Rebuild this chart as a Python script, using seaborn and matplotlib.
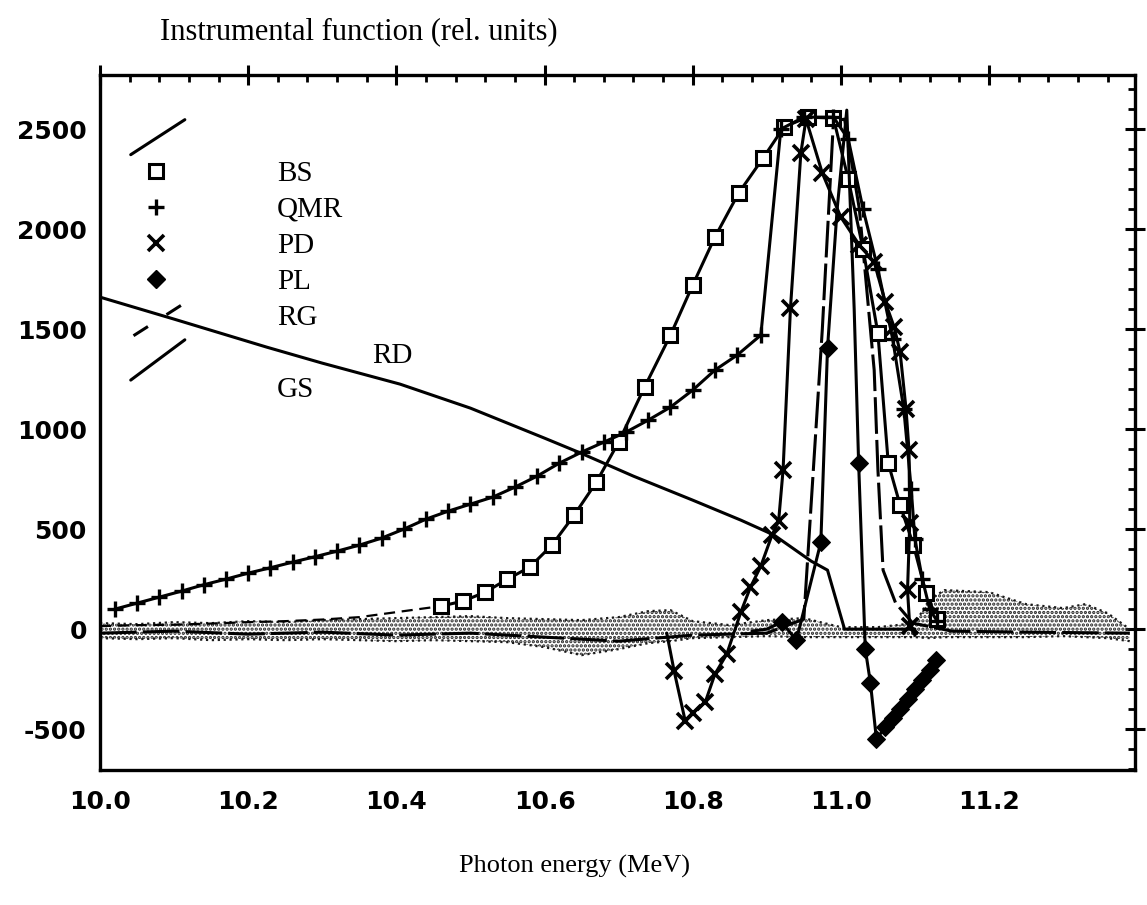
import matplotlib
matplotlib.use("Agg")
import matplotlib.pyplot as plt
import seaborn as sns
from matplotlib.lines import Line2D
from matplotlib.legend_handler import HandlerBase
from matplotlib.ticker import MultipleLocator

# ---- data (x in MeV, y in rel. units) ----
# RD: smooth curve, no markers
rd_x = [10.0, 10.1, 10.225, 10.3, 10.405, 10.5, 10.6, 10.649, 10.72, 10.80, 10.865, 10.91, 10.96, 10.982, 11.005, 11.1]
rd_y = [1660, 1550, 1410, 1330, 1225, 1105, 955, 880, 765, 645, 545, 470, 340, 295, 0, 0]

# BS: low dashed tail, then square markers
bs_tail_x = [10.0, 10.05, 10.1, 10.15, 10.2, 10.25, 10.3, 10.35, 10.4, 10.46]
bs_tail_y = [15, 20, 22, 28, 35, 40, 48, 60, 85, 115]
bs_x = [10.46, 10.49, 10.52, 10.55, 10.58, 10.61, 10.64, 10.67, 10.70, 10.735, 10.77, 10.80, 10.83,
        10.862, 10.895, 10.923, 10.955, 10.99, 11.01, 11.03, 11.05, 11.064, 11.08, 11.098, 11.115, 11.13]
bs_y = [115, 140, 185, 250, 310, 420, 570, 735, 935, 1210, 1470, 1720, 1960,
        2180, 2355, 2510, 2560, 2555, 2250, 1900, 1480, 830, 620, 420, 180, 50]

# QMR: plus markers
qmr_x = [10.02, 10.05, 10.08, 10.11, 10.14, 10.17, 10.20, 10.23, 10.26, 10.29, 10.32, 10.35, 10.38,
         10.41, 10.44, 10.47, 10.50, 10.53, 10.56, 10.59, 10.62, 10.65, 10.68, 10.71, 10.74, 10.77,
         10.80, 10.83, 10.86, 10.892, 10.919, 10.95, 10.99, 11.01, 11.03, 11.05, 11.07, 11.085, 11.095,
         11.10, 11.11, 11.12, 11.13]
qmr_y = [100, 130, 160, 190, 222, 250, 280, 307, 335, 362, 390, 420, 455,
         500, 550, 590, 625, 660, 710, 765, 830, 885, 935, 985, 1045, 1110,
         1195, 1295, 1370, 1470, 2500, 2560, 2560, 2450, 2100, 1800, 1450, 1100, 700,
         450, 250, 100, 40]

# PD: x markers
pd_x = [10.765, 10.775, 10.79, 10.80, 10.817, 10.83, 10.846, 10.865, 10.878, 10.892, 10.907, 10.916,
        10.922, 10.932, 10.946, 10.953, 10.975, 11.0, 11.025, 11.045, 11.06, 11.072, 11.08, 11.088,
        11.092, 11.093, 11.09, 11.093, 11.10]
pd_y = [-20, -210, -460, -420, -365, -225, -125, 85, 210, 315, 470, 540,
        795, 1605, 2380, 2550, 2280, 2060, 1920, 1835, 1635, 1510, 1385, 1100,
        895, 530, 195, 15, -30]

# PL: filled diamonds
pl_x = [10.88, 10.9, 10.92, 10.94, 10.973, 10.982, 10.995, 11.008, 11.018, 11.024, 11.033,
        11.04, 11.048, 11.06, 11.07, 11.08, 11.09, 11.10, 11.11, 11.12, 11.128]
pl_y = [-10, 0, 35, -55, 435, 1405, 2100, 2595, 1600, 830, -100,
        -270, -550, -490, -445, -400, -350, -300, -255, -205, -155]

# RG: dashed, mostly inside the noise band
rg_x = [10.0, 10.1, 10.2, 10.3, 10.4, 10.5, 10.6, 10.7, 10.8, 10.9, 10.95, 10.975, 10.99, 11.005,
        11.025, 11.045, 11.05, 11.057, 11.074, 11.097, 11.15, 11.25, 11.39]
rg_y = [-20, -10, -25, -15, -30, -20, -40, -60, -30, -20, 50, 1500, 2540, 2550,
        2100, 1295, 800, 295, 130, 30, -10, -15, -20]

# GS: noise band, upper / lower envelope
gs_x = [10.0, 10.05, 10.1, 10.15, 10.2, 10.25, 10.3, 10.35, 10.4, 10.45, 10.5, 10.55, 10.6, 10.65,
        10.7, 10.74, 10.77, 10.8, 10.85, 10.9, 10.95, 11.0, 11.05, 11.1, 11.12, 11.14, 11.2, 11.25,
        11.3, 11.33, 11.36, 11.39]
gs_hi = [30, 25, 35, 30, 40, 35, 45, 50, 55, 60, 65, 55, 50, 45,
         60, 90, 95, 40, 20, 45, 55, 10, 10, 30, 150, 195, 185, 125,
         105, 125, 80, 0]
gs_lo = [-45, -50, -45, -55, -50, -55, -50, -55, -60, -55, -60, -65, -90, -130,
         -100, -70, -60, -45, -40, -35, -40, -40, -40, -40, -45, -40, -40, -40,
         -35, -40, -45, -60]

x_ticks = [10.0, 10.2, 10.4, 10.6, 10.8, 11.0, 11.2]
x_labels = ["10.0", "10.2", "10.4", "10.6", "10.8", "11.0", "11.2"]
y_ticks = [-500, 0, 500, 1000, 1500, 2000, 2500]
y_labels = ["-500", "0", "500", "1000", "1500", "2000", "2500"]


class Slant:
    def __init__(self, ls, y0, y1, x0=2):
        self.ls, self.y0, self.y1, self.x0 = ls, y0, y1, x0


class SlantHandler(HandlerBase):
    # draws the slanted line samples of the old legend
    def create_artists(self, legend, h, xd, yd, width, height, fontsize, trans):
        yc = -yd + height / 2
        ln = Line2D([-xd + h.x0, -xd + width], [yc + h.y0, yc + h.y1], color="k", lw=2.2, ls=h.ls)
        ln.set_transform(trans)
        return [ln]


sns.set_style("white")
plt.rcParams["font.family"] = ["Liberation Serif", "DejaVu Serif"]
plt.rcParams.update({"text.color": "k", "axes.labelcolor": "k", "xtick.color": "k",
                     "ytick.color": "k", "hatch.linewidth": 1.6})

fig = plt.figure(figsize=(11.47, 9.05), dpi=100)
ax = fig.add_axes([0.0872, 0.149, 0.9023, 0.768])

lw = 2.2
ax.fill_between(gs_x, gs_lo, gs_hi, facecolor="none", edgecolor="0.15", hatch="....", lw=0)
sns.lineplot(x=gs_x, y=gs_hi, color="0.1", lw=1.6, ls=":", ax=ax, estimator=None, sort=False)
sns.lineplot(x=gs_x, y=gs_lo, color="0.1", lw=1.6, ls=":", ax=ax, estimator=None, sort=False)
sns.lineplot(x=rg_x, y=rg_y, color="k", lw=lw, ls=(0, (12, 2)), ax=ax, estimator=None, sort=False)

sns.lineplot(x=rd_x, y=rd_y, color="k", lw=lw, ax=ax, estimator=None, sort=False)
sns.lineplot(x=bs_tail_x, y=bs_tail_y, color="k", lw=1.6, ls=(0, (5, 3)), ax=ax, estimator=None, sort=False)
sns.lineplot(x=bs_x, y=bs_y, color="k", lw=lw, marker="s", markersize=10, markerfacecolor="white",
             markeredgecolor="k", markeredgewidth=2.2, ax=ax, estimator=None, sort=False)
sns.lineplot(x=qmr_x, y=qmr_y, color="k", lw=lw, marker="+", markersize=12,
             markeredgecolor="k", markeredgewidth=2.4, ax=ax, estimator=None, sort=False)
sns.lineplot(x=pd_x, y=pd_y, color="k", lw=lw, marker="x", markersize=11, markevery=list(range(1, len(pd_x) - 1)),
             markeredgecolor="k", markeredgewidth=2.6, ax=ax, estimator=None, sort=False)
pl_marks = [i for i, (v, w) in enumerate(zip(pl_x, pl_y)) if 10.91 < v < 11.14 and w < 1500]
sns.lineplot(x=pl_x, y=pl_y, color="k", lw=lw, marker="D", markersize=9, markevery=pl_marks,
             markerfacecolor="k", markeredgecolor="k", ax=ax, estimator=None, sort=False)

ax.text(10.395, 1365, "RD", fontsize=21, ha="center", va="center")

# axes, ticks
ax.set_xlim(10.0, 11.397)
ax.set_ylim(-705, 2770)
ax.set_xticks(x_ticks)
ax.set_xticklabels(x_labels, fontfamily="DejaVu Sans", fontweight="bold", fontsize=18)
ax.set_yticks(y_ticks)
ax.set_yticklabels(y_labels, fontfamily="DejaVu Sans", fontweight="bold", fontsize=18)
ax.xaxis.set_minor_locator(MultipleLocator(0.04))
ax.yaxis.set_minor_locator(MultipleLocator(100))
ax.tick_params(which="major", direction="inout", length=15, width=2.2, pad=2)
ax.tick_params(which="minor", direction="out", length=5, width=2)
ax.tick_params(axis="x", which="major", pad=7)
for s in ax.spines.values():
    s.set_linewidth(2.4)
    s.set_color("k")

top = ax.secondary_xaxis("top", functions=(lambda v: v, lambda v: v))
top.set_xticks(x_ticks + [11.4])
top.xaxis.set_minor_locator(MultipleLocator(0.04))
top.tick_params(which="major", direction="inout", length=15, width=2.2, labeltop=False)
top.tick_params(which="minor", direction="in", length=5, width=2)
right = ax.secondary_yaxis("right", functions=(lambda v: v, lambda v: v))
right.set_yticks(y_ticks)
right.yaxis.set_minor_locator(MultipleLocator(100))
right.tick_params(which="major", direction="inout", length=15, width=2.2, labelright=False)
right.tick_params(which="minor", direction="in", length=5, width=2)

ax.set_xlabel("Photon energy (MeV)", fontsize=19)
ax.xaxis.set_label_coords(0.4585, -0.122)
fig.text(0.1395, 0.965, "Instrumental function (rel. units)", fontsize=22, ha="left", va="center")

# legend
mk = dict(color="k", ls="none")
handles = [
    Slant("-", -14.4, 10.8),
    Line2D([], [], marker="s", markersize=10, markerfacecolor="white", markeredgewidth=2.2, **mk),
    Line2D([], [], marker="+", markersize=12, markeredgewidth=2.4, **mk),
    Line2D([], [], marker="x", markersize=11, markeredgewidth=2.6, **mk),
    Line2D([], [], marker="D", markersize=9, **mk),
    Slant((0, (5.6, 7.2)), -15, 8.6, x0=4),
    Slant("-", -21, 8),
    Line2D([], [], **mk),
]
labels = ["", "BS", "QMR", "PD", "PL", "RG", "", "GS"]
ax.legend(handles, labels, handler_map={Slant: SlantHandler()}, loc="upper left",
          bbox_to_anchor=(0.027, 0.929), frameon=False, fontsize=21, borderpad=0, borderaxespad=0,
          handlelength=1.95, handletextpad=3.15, labelspacing=0.33)

fig.savefig("out.png", dpi=100)
